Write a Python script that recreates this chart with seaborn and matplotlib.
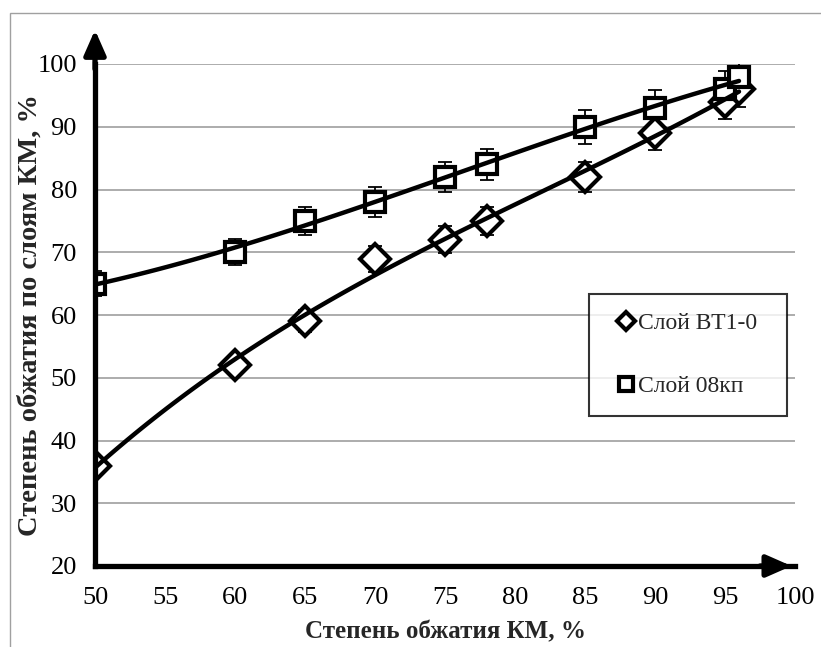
import numpy as np
import pandas as pd
import seaborn as sns
import matplotlib
matplotlib.use("Agg")
import matplotlib.pyplot as plt
from matplotlib.lines import Line2D
from matplotlib.patches import Rectangle

# Степень обжатия композиционного материала, %
reduction_total = [50, 60, 65, 70, 75, 78, 85, 90, 95, 96]
# Степень обжатия по слоям, %
layer_vt1 = [36, 52, 59, 69, 72, 75, 82, 89, 94, 96]
layer_08kp = [65, 70, 75, 78, 82, 84, 90, 93, 96, 98]
series_names = ["Слой ВТ1-0", "Слой 08кп"]
err_frac = 0.03

x_ticks = [50, 55, 60, 65, 70, 75, 80, 85, 90, 95, 100]
y_ticks = [20, 30, 40, 50, 60, 70, 80, 90, 100]

sns.set_theme(style="white")
plt.rcParams["font.family"] = ["Liberation Serif", "DejaVu Serif"]

df = pd.DataFrame({
    "x": reduction_total * 2,
    "y": layer_vt1 + layer_08kp,
    "layer": [series_names[0]] * len(layer_vt1) + [series_names[1]] * len(layer_08kp),
})

fig = plt.figure(figsize=(8.21, 6.47), dpi=100)
ax = fig.add_axes([95 / 821, 1 - 566 / 647, 700 / 821, 502 / 647])

markers = {series_names[0]: "D", series_names[1]: "s"}
msizes = {series_names[0]: 15, series_names[1]: 15}

for name in series_names:
    sub = df[df["layer"] == name]
    # error bars (±3 %)
    ax.errorbar(sub["x"], sub["y"], yerr=sub["y"] * err_frac, fmt="none",
                ecolor="black", elinewidth=1.3, capsize=5, capthick=1.3, zorder=2)
    # markers
    ax.plot(sub["x"], sub["y"], linestyle="none", marker=markers[name],
            markersize=msizes[name], markerfacecolor="white",
            markeredgecolor="black", markeredgewidth=3, zorder=3)
    # polynomial trend line
    sns.regplot(data=sub, x="x", y="y", order=3, ci=None, scatter=False,
                truncate=True, ax=ax,
                line_kws=dict(color="black", linewidth=3.2, zorder=4))

ax.set_xlim(50, 100)
ax.set_ylim(20, 100)
ax.set_xticks(x_ticks)
ax.set_yticks(y_ticks)
ax.tick_params(axis="both", labelsize=19, direction="out", length=5, width=3.5,
               color="black", labelcolor="black")
ax.tick_params(axis="x", pad=10)
ax.tick_params(axis="y", pad=8)
ax.grid(axis="y", color="#a6a6a6", linewidth=1.3)
ax.grid(axis="x", visible=False)
ax.set_axisbelow(True)

for side in ["top", "right"]:
    ax.spines[side].set_visible(False)
for side in ["left", "bottom"]:
    ax.spines[side].set_color("black")
    ax.spines[side].set_linewidth(3.8)
    ax.spines[side].set_zorder(5)

# axis arrows
arrow_style = "-|>,head_length=0.75,head_width=0.33"
ax.annotate("", xy=(0.0, 1.068), xytext=(0.0, 0.99), xycoords="axes fraction",
            arrowprops=dict(arrowstyle=arrow_style, color="black", lw=3.8,
                            mutation_scale=20, shrinkA=0, shrinkB=0),
            annotation_clip=False)
ax.annotate("", xy=(0.995, 0.0), xytext=(0.95, 0.0), xycoords="axes fraction",
            arrowprops=dict(arrowstyle=arrow_style, color="black", lw=3.8,
                            mutation_scale=20, shrinkA=0, shrinkB=0),
            annotation_clip=False)

ax.set_xlabel("Степень обжатия КМ, %", fontsize=18, fontweight="bold", labelpad=8)
ax.set_ylabel("Степень обжатия по слоям КМ, %", fontsize=20.5, fontweight="bold")
ax.yaxis.set_label_coords(-0.075, 0.5)

handles = [Line2D([], [], linestyle="none", marker=markers[n],
                  markersize=9 if n == series_names[0] else 10,
                  markerfacecolor="white", markeredgecolor="black", markeredgewidth=3)
           for n in series_names]
leg = ax.legend(handles, series_names, loc="upper left",
                bbox_to_anchor=(0.706, 0.311, 0.283, 0.231), mode="expand",
                fontsize=17, frameon=True, fancybox=False, labelspacing=1.75,
                handlelength=1.55, handletextpad=-0.3, borderpad=0.8,
                borderaxespad=0)
leg.get_frame().set_edgecolor("black")
leg.get_frame().set_linewidth(1.5)
leg.set_zorder(6)

# outer frame
fig.add_artist(Rectangle((10 / 821, -0.05), 1.2, 1.03, transform=fig.transFigure,
                         fill=False, edgecolor="#a0a0a0", linewidth=1.0))

fig.savefig("out.png", dpi=100)
